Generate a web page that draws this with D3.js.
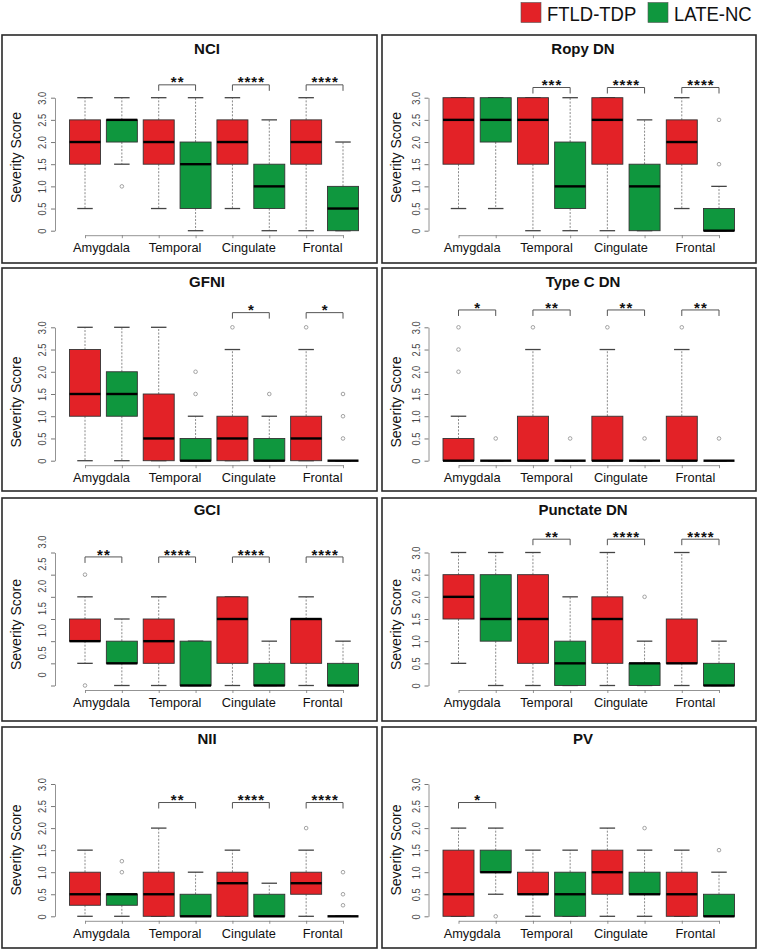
<!DOCTYPE html>
<html>
<head>
<meta charset="utf-8">
<script src="https://cdn.jsdelivr.net/npm/d3@7"></script>
<style>
  html, body { margin: 0; padding: 0; background: #fff; }
  svg { display: block; font-family: "Liberation Sans", Arial, Helvetica, sans-serif; }
</style>
</head>
<body>
<script>
// ---------------- DATA ----------------
const regions = ["Amygdala", "Temporal", "Cingulate", "Frontal"];
const groups = ["FTLD-TDP", "LATE-NC"];
const panelTitles = ["NCI", "Ropy DN", "GFNI", "Type C DN", "GCI", "Punctate DN", "NII", "PV"];
const yTickValues = [0, 0.5, 1, 1.5, 2, 2.5, 3];
const yTickLabels = ["0", "0.5", "1.0", "1.5", "2.0", "2.5", "3.0"];

// box stats per box (order: Amyg FTLD, Amyg LATE, Temp FTLD, Temp LATE, Cing FTLD, Cing LATE, Front FTLD, Front LATE)
// [lower whisker, Q1, median, Q3, upper whisker]
const nciStats = [[0.5,1.5,2,2.5,3],[1.5,2,2.5,2.5,3],[0.5,1.5,2,2.5,3],[0,0.5,1.5,2,3],[0.5,1.5,2,2.5,3],[0,0.5,1,1.5,2.5],[0,1.5,2,2.5,3],[0,0,0.5,1,2]];
const nciOutliers = [[],[1],[],[],[],[],[],[]];
const nciSig = ["", "**", "****", "****"];

const ropyStats = [[0.5,1.5,2.5,3,3],[0.5,2,2.5,3,3],[0,1.5,2.5,3,3],[0,0.5,1,2,3],[0,1.5,2.5,3,3],[0,0,1,1.5,2.5],[0.5,1.5,2,2.5,3],[0,0,0,0.5,1]];
const ropyOutliers = [[],[],[],[],[],[],[],[1.5,2.5]];
const ropySig = ["", "***", "****", "****"];

const gfniStats = [[0,1,1.5,2.5,3],[0,1,1.5,2,3],[0,0,0.5,1.5,3],[0,0,0,0.5,1],[0,0,0.5,1,2.5],[0,0,0,0.5,1],[0,0,0.5,1,2.5],[0,0,0,0,0]];
const gfniOutliers = [[],[],[],[1.5,2],[3],[1.5],[3],[0.5,1,1.5]];
const gfniSig = ["", "", "*", "*"];

const typeCStats = [[0,0,0,0.5,1],[0,0,0,0,0],[0,0,0,1,2.5],[0,0,0,0,0],[0,0,0,1,2.5],[0,0,0,0,0],[0,0,0,1,2.5],[0,0,0,0,0]];
const typeCOutliers = [[2,2.5,3],[0.5],[3],[0.5],[3],[0.5],[3],[0.5]];
const typeCSig = ["*", "**", "**", "**"];

const gciStats = [[0.5,1,1,1.5,2],[0,0.5,0.5,1,1.5],[0,0.5,1,1.5,2],[0,0,0,1,1],[0,0.5,1.5,2,2],[0,0,0,0.5,1],[0,0.5,1.5,1.5,2],[0,0,0,0.5,1]];
const gciOutliers = [[0,2.5],[],[],[],[],[],[],[]];
const gciSig = ["**", "****", "****", "****"];

const punctateStats = [[0.5,1.5,2,2.5,3],[0,1,1.5,2.5,3],[0,0.5,1.5,2.5,3],[0,0,0.5,1,2],[0,0.5,1.5,2,3],[0,0,0.5,0.5,1],[0,0.5,0.5,1.5,3],[0,0,0,0.5,1]];
const punctateOutliers = [[],[],[],[],[],[2],[],[]];
const punctateSig = ["", "**", "****", "****"];

const niiStats = [[0,0.25,0.5,1,1.5],[0,0.25,0.5,0.5,0.5],[0,0,0.5,1,2],[0,0,0,0.5,1],[0,0,0.75,1,1.5],[0,0,0,0.5,0.75],[0,0.5,0.75,1,1.5],[0,0,0,0,0]];
const niiOutliers = [[],[1,1.25],[],[],[],[],[2],[0.25,0.5,1]];
const niiSig = ["", "**", "****", "****"];

const pvStats = [[0,0,0.5,1.5,2],[0.5,1,1,1.5,2],[0,0.5,0.5,1,1.5],[0,0,0.5,1,1.5],[0,0.5,1,1.5,2],[0,0.5,0.5,1,1.5],[0,0,0.5,1,1.5],[0,0,0,0.5,1]];
const pvOutliers = [[],[0],[],[],[],[2],[],[1.5]];
const pvSig = ["*", "", "", ""];

// significance bracket heights, in severity-score units
const sigLevels = [3.29, 3.23, 3.33, 3.39, 2.90, 3.30, 2.58, 2.58];

const panelStats = [nciStats, ropyStats, gfniStats, typeCStats, gciStats, punctateStats, niiStats, pvStats];
const panelOutliers = [nciOutliers, ropyOutliers, gfniOutliers, typeCOutliers, gciOutliers, punctateOutliers, niiOutliers, pvOutliers];
const panelSig = [nciSig, ropySig, gfniSig, typeCSig, gciSig, punctateSig, niiSig, pvSig];

// ---------------- LAYOUT ----------------
const W = 760, H = 951;
const RED = "#e32227", GREEN = "#0f973e";
const colors = { "FTLD-TDP": RED, "LATE-NC": GREEN };

const cols = [
  { frameL: 2, frameR: 377, x1: 85, x8: 343, axisX: 55, yLabelX: 16, titleX: 207, labelShift: -2 },
  { frameL: 382, frameR: 756, x1: 458.5, x8: 719, axisX: 428.5, yLabelX: 396, titleX: 583, labelShift: -5 }
];
const rows = [
  { top: 35, bot: 263, y0: 230.7, y3: 97.7, titleY: 54, yLabelCY: 157.5 },
  { top: 268, bot: 491, y0: 460.7, y3: 327.3, titleY: 287, yLabelCY: 402 },
  { top: 498, bot: 721, y0: 685.5, y3: 552.5, titleY: 515, yLabelCY: 624.5 },
  { top: 727, bot: 948, y0: 916.3, y3: 784, titleY: 744, yLabelCY: 850 }
];
// GCI's printed tick labels sit above their ticks in the original
const tickLabelShift = [0, 0, 0, 0, -11, 0, 0, 0];

const svg = d3.select("body").append("svg").attr("width", W).attr("height", H);
svg.append("rect").attr("width", W).attr("height", H).attr("fill", "#fff");

// Legend
const legend = svg.append("g");
const legX = [521, 648];
groups.forEach((g, i) => {
  legend.append("rect").attr("x", legX[i]).attr("y", 2.5).attr("width", 20).attr("height", 20)
    .attr("fill", colors[g]).attr("stroke", "#555").attr("stroke-width", 0.6);
  legend.append("text")
    .attr("transform", `translate(${legX[i] + 26},20.5) scale(0.88,1)`)
    .attr("font-size", 21).attr("fill", "#111").text(g);
});

const boxKeys = [];
regions.forEach(r => groups.forEach(g => boxKeys.push(r + "|" + g)));

panelTitles.forEach((title, p) => {
  const col = cols[p % 2], row = rows[Math.floor(p / 2)];
  const g = svg.append("g");

  g.append("rect").attr("x", col.frameL).attr("y", row.top)
    .attr("width", col.frameR - col.frameL).attr("height", row.bot - row.top)
    .attr("fill", "none").attr("stroke", "#2a2a2a").attr("stroke-width", 1.6);

  const x = d3.scalePoint().domain(boxKeys).range([col.x1, col.x8]);
  const y = d3.scaleLinear().domain([0, 3]).range([row.y0, row.y3]);
  const bw = 31;

  // title
  g.append("text").attr("x", col.titleX).attr("y", row.titleY).attr("text-anchor", "middle")
    .attr("font-size", 15).attr("font-weight", "bold").attr("fill", "#111").text(title);

  // y axis
  const ya = g.append("g").attr("transform", `translate(${col.axisX},0)`)
    .call(d3.axisLeft(y).tickValues(yTickValues).tickFormat((d, i) => yTickLabels[i]).tickSize(4).tickSizeOuter(0));
  ya.select(".domain").attr("stroke", "#777").attr("stroke-width", 0.8);
  ya.selectAll(".tick line").attr("stroke", "#555").attr("stroke-width", 0.8);
  ya.selectAll(".tick text")
    .attr("x", 0).attr("dy", 0).attr("text-anchor", "middle")
    .attr("transform", `translate(-9,${tickLabelShift[p]}) rotate(-90) scale(0.85,1)`)
    .attr("font-size", 11).attr("fill", "#444").attr("font-family", null);

  g.append("text").attr("transform", `translate(${col.yLabelX + 5},${row.yLabelCY}) rotate(-90)`)
    .attr("text-anchor", "middle").attr("font-size", 14).attr("fill", "#111").text("Severity Score");

  // x axis
  const xa = g.append("g").attr("transform", `translate(0,${row.y0 + 4.5})`)
    .call(d3.axisBottom(x).tickSize(3).tickSizeOuter(0).tickFormat(""));
  xa.select(".domain").attr("stroke", "#777").attr("stroke-width", 0.8);
  xa.selectAll(".tick line").attr("stroke", "#777").attr("stroke-width", 0.8);

  regions.forEach(r => {
    const cx = (x(r + "|" + groups[0]) + x(r + "|" + groups[1])) / 2 + col.labelShift;
    g.append("text").attr("x", cx).attr("y", row.y0 + 21.5).attr("text-anchor", "middle")
      .attr("font-size", 12.8).attr("fill", "#111").text(r);
  });

  // boxes
  const stats = panelStats[p], outs = panelOutliers[p];
  boxKeys.forEach((k, i) => {
    const [lo, q1, med, q3, hi] = stats[i];
    const grp = k.split("|")[1];
    const cx = x(k);
    const bg = g.append("g");
    if (hi > q3) bg.append("line").attr("x1", cx).attr("x2", cx).attr("y1", y(q3)).attr("y2", y(hi))
      .attr("stroke", "#8a8a8a").attr("stroke-width", 1).attr("stroke-dasharray", "2,1.5");
    if (lo < q1) bg.append("line").attr("x1", cx).attr("x2", cx).attr("y1", y(q1)).attr("y2", y(lo))
      .attr("stroke", "#8a8a8a").attr("stroke-width", 1).attr("stroke-dasharray", "2,1.5");
    [lo, hi].forEach(v => bg.append("line").attr("x1", cx - bw / 4).attr("x2", cx + bw / 4)
      .attr("y1", y(v)).attr("y2", y(v)).attr("stroke", "#444").attr("stroke-width", 1.3));
    bg.append("rect").attr("x", cx - bw / 2).attr("width", bw)
      .attr("y", y(q3)).attr("height", y(q1) - y(q3))
      .attr("fill", colors[grp]).attr("stroke", "#333").attr("stroke-width", 0.9);
    bg.append("line").attr("x1", cx - bw / 2).attr("x2", cx + bw / 2).attr("y1", y(med)).attr("y2", y(med))
      .attr("stroke", "#000").attr("stroke-width", 2.4);
    outs[i].forEach(v => bg.append("circle").attr("cx", cx).attr("cy", y(v)).attr("r", 1.8)
      .attr("fill", "none").attr("stroke", "#999").attr("stroke-width", 0.9));
  });

  // significance brackets
  panelSig[p].forEach((s, ri) => {
    if (!s) return;
    const xa1 = x(regions[ri] + "|" + groups[0]), xb1 = x(regions[ri] + "|" + groups[1]);
    const yb = y(sigLevels[p]);
    g.append("path").attr("d", `M${xa1},${yb + 6}V${yb}H${xb1}V${yb + 6}`)
      .attr("fill", "none").attr("stroke", "#555").attr("stroke-width", 1);
    g.append("text").attr("x", (xa1 + xb1) / 2 + 0.5).attr("y", yb + 2.6).attr("text-anchor", "middle")
      .attr("font-size", 15).attr("font-weight", "bold").attr("letter-spacing", 1).attr("fill", "#111").text(s);
  });
});
</script>
</body>
</html>
